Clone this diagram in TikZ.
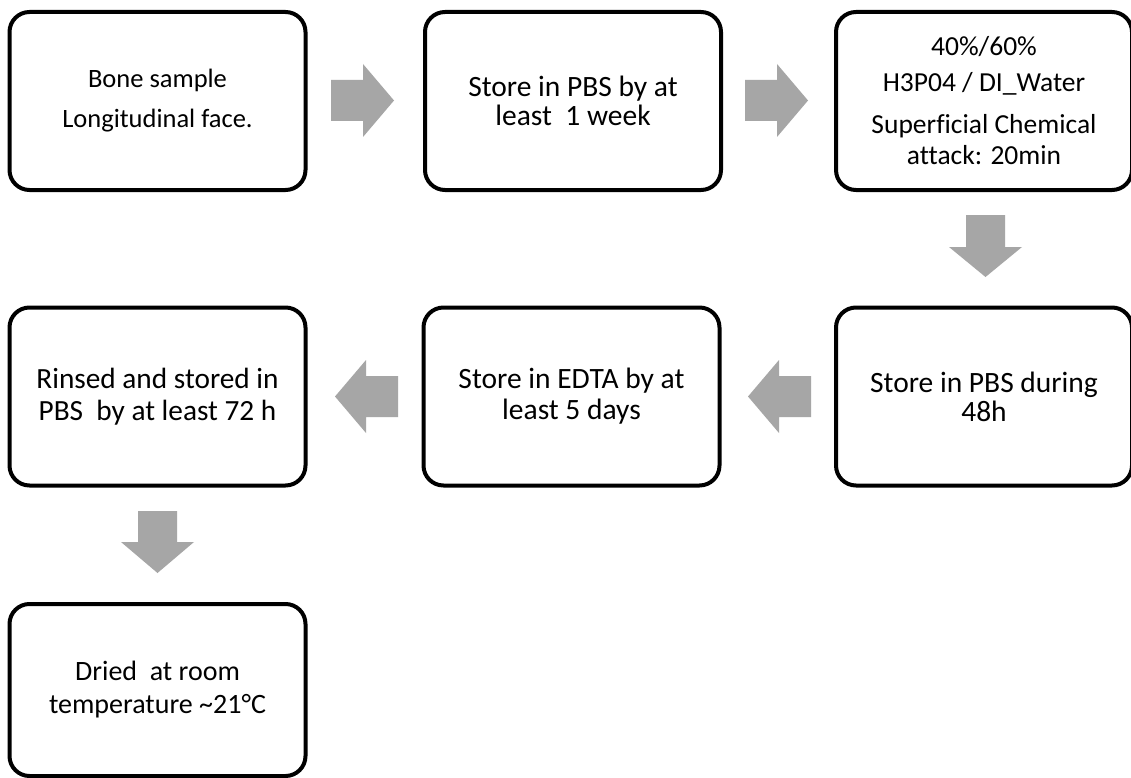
\documentclass[tikz,border=0pt]{standalone}
\usepackage{fontspec}
\setmainfont{Carlito}[Ligatures={NoCommon}]
\begin{document}
\begin{tikzpicture}[x=1pt,y=-1pt,
  procbox/.style={draw=black, line width=4pt, rounded corners=20pt, fill=white,
    minimum width=296pt, minimum height=178pt, align=center, inner sep=0pt, text=black},
  blockarrow/.style={fill=arrowgray, draw=none}]
\definecolor{arrowgray}{HTML}{A6A6A6}
\useasboundingbox[fill=white] (0,0) rectangle (1131,778);
% row 1
\node[procbox, font=\fontsize{26.5}{40}\selectfont] (b1) at (157.5,101) {Bone sample\\Longitudinal face.};
\node[procbox, font=\fontsize{29.5}{28.5}\selectfont] (b2) at (573,101) {Store in PBS by at\\least\ \ 1 week};
\node[procbox, font=\fontsize{27.5}{31}\selectfont] (b3) at (984,101) {40\%/60\%\\[5pt]H3P04 / DI\_Water\\[11pt]Superficial Chemical\\attack: 20min};
% row 2
\node[procbox, font=\fontsize{29.5}{29}\selectfont] (b4) at (984,396.5) {Store in PBS during\\48h};
\node[procbox, font=\fontsize{29.5}{31}\selectfont] (b5) at (571.5,396.5) {Store in EDTA by at\\least 5 days};
\node[procbox, font=\fontsize{29.3}{32}\selectfont] (b6) at (157.5,396.5) {Rinsed and stored in\\PBS\ \ by at least 72 h};
% row 3
\node[procbox, font=\fontsize{28}{33}\selectfont, minimum height=172pt] (b7) at (157.5,690) {Dried\ \ at room\\temperature {\char"7E}21°C};
% block arrows
\fill[blockarrow] (331,80) -- (363,80) -- (363,64) -- (394,100.5) -- (363,137) -- (363,121) -- (331,121) -- cycle;
\fill[blockarrow] (745,80) -- (777,80) -- (777,64) -- (808,100.5) -- (777,137) -- (777,121) -- (745,121) -- cycle;
\fill[blockarrow] (966,215) -- (1005,215) -- (1005,247) -- (1022,247) -- (985.5,277) -- (949,247) -- (966,247) -- cycle;
\fill[blockarrow] (811,376) -- (779,376) -- (779,360) -- (748,396.5) -- (779,433) -- (779,417) -- (811,417) -- cycle;
\fill[blockarrow] (398,376) -- (366,376) -- (366,360) -- (335,396.5) -- (366,433) -- (366,417) -- (398,417) -- cycle;
\fill[blockarrow] (138,511) -- (177,511) -- (177,542) -- (194,542) -- (157.5,573) -- (121,542) -- (138,542) -- cycle;
\end{tikzpicture}
\end{document}
